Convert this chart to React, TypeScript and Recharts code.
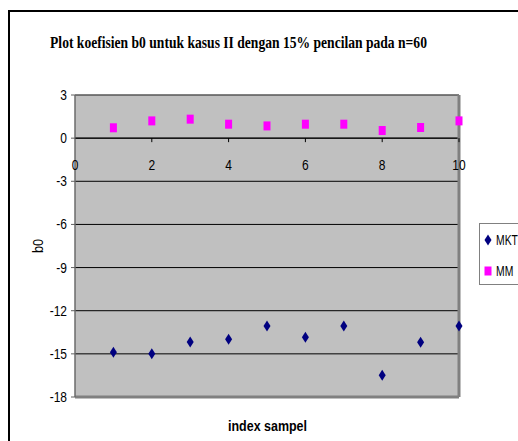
import React from 'react';
import { ScatterChart, Scatter, XAxis, YAxis, CartesianGrid, ReferenceArea, ReferenceLine, Legend, Label } from 'recharts';

const indexSampel = [1, 2, 3, 4, 5, 6, 7, 8, 9, 10];
const mktValues = [-14.88, -15.0, -14.17, -13.98, -13.06, -13.84, -13.06, -16.48, -14.19, -13.06];
const mmValues = [0.72, 1.2, 1.32, 0.97, 0.85, 0.97, 0.97, 0.53, 0.74, 1.2];
const xTicks = [0, 2, 4, 6, 8, 10];
const yTicks = [-18, -15, -12, -9, -6, -3, 0, 3];

const mktData = indexSampel.map((x, i) => ({ x, y: mktValues[i] }));
const mmData = indexSampel.map((x, i) => ({ x, y: mmValues[i] }));

const OUTER_W = 518;
const OUTER_H = 441;
const OFF = 8;
const W = 510;
const H = 433;
const M = { top: 87, right: 59, bottom: 14, left: 27 };
const X_AXIS_H = 30;
const PLOT_TOP = M.top;
const PLOT_H = H - M.top - M.bottom - X_AXIS_H;
const Y_MIN = -18;
const Y_MAX = 3;
const ZERO_Y = PLOT_TOP + (PLOT_H * (Y_MAX - 0)) / (Y_MAX - Y_MIN);

const SANS = 'Liberation Sans, Arial, sans-serif';

const Diamond = (props: any) => {
  const { cx, cy } = props;
  if (cx == null || cy == null) return null;
  return <path d={`M${cx},${cy - 5.5} L${cx + 3.5},${cy} L${cx},${cy + 5.5} L${cx - 3.5},${cy} Z`} fill="#000080" />;
};

const Square = (props: any) => {
  const { cx, cy } = props;
  if (cx == null || cy == null) return null;
  return <rect x={cx - 3.5} y={cy - 4.5} width={7} height={9} fill="#ff00ff" />;
};

const XTick = (props: any) => {
  const { x, payload } = props;
  return (
    <g>
      {payload.value !== 0 && <line x1={x} x2={x} y1={ZERO_Y} y2={ZERO_Y + 4} stroke="#000" />}
      <text
        transform={`translate(${x},${ZERO_Y + 32}) scale(0.8,1)`}
        textAnchor="middle"
        fontFamily={SANS}
        fontSize={15}
        fill="#000"
      >
        {payload.value}
      </text>
    </g>
  );
};

const YTick = (props: any) => {
  const { x, y, payload } = props;
  return (
    <text
      transform={`translate(${x},${y + 5}) scale(0.8,1)`}
      textAnchor="end"
      fontFamily={SANS}
      fontSize={15}
      fill="#000"
    >
      {payload.value}
    </text>
  );
};

const LegendContent = (props: any) => {
  const { payload } = props;
  return (
    <div
      style={{
        width: 60,
        height: 62,
        border: '1px solid #808080',
        background: '#fff',
        boxSizing: 'border-box',
        position: 'relative',
      }}
    >
      {(payload || []).map((p: any, i: number) => (
        <div key={p.value} style={{ position: 'absolute', left: 0, top: i === 0 ? 7 : 38, height: 18, display: 'flex', alignItems: 'center' }}>
          <svg width={16} height={18} style={{ display: 'block' }}>
            {i === 0 ? (
              <path d="M8,3.5 L11.5,9 L8,14.5 L4.5,9 Z" fill="#000080" />
            ) : (
              <rect x={4.5} y={4.5} width={7} height={9} fill="#ff00ff" />
            )}
          </svg>
          <span
            style={{
              fontFamily: SANS,
              fontSize: 14,
              color: '#000',
              display: 'inline-block',
              transform: 'scaleX(0.74)',
              transformOrigin: 'left center',
              whiteSpace: 'nowrap',
            }}
          >
            {p.value}
          </span>
        </div>
      ))}
    </div>
  );
};

export default function App() {
  return (
    <div style={{ position: 'fixed', left: 0, top: 0, width: OUTER_W, height: OUTER_H, overflow: 'hidden', background: '#fff' }}>
      <div
        style={{
          position: 'absolute',
          left: OFF,
          top: OFF + 2,
          width: W + 40,
          height: H + 40,
          borderLeft: '2px solid #000',
          borderTop: '2px solid #000',
          boxSizing: 'border-box',
        }}
      />
      <svg width={W} height={60} style={{ position: 'absolute', left: OFF, top: OFF }}>
        <text
          transform="translate(230.5,40) scale(0.8,1)"
          textAnchor="middle"
          fontFamily="Liberation Serif, Times New Roman, serif"
          fontWeight="bold"
          fontSize={17}
          fill="#000"
        >
          Plot koefisien b0 untuk kasus II dengan 15% pencilan pada n=60
        </text>
      </svg>
      <div style={{ position: 'absolute', left: OFF, top: OFF }}>
        <ScatterChart width={W} height={H} margin={M}>
          <CartesianGrid vertical={false} stroke="#000" fill="#c0c0c0" fillOpacity={1} />
          <XAxis
            type="number"
            dataKey="x"
            domain={[0, 10]}
            ticks={xTicks}
            axisLine={false}
            tickLine={false}
            height={X_AXIS_H}
            tick={<XTick />}
            interval={0}
          >
            <Label
              content={() => (
                <text
                  transform="translate(259.5,423) scale(0.89,1)"
                  textAnchor="middle"
                  fontFamily={SANS}
                  fontWeight="bold"
                  fontSize={14}
                  fill="#000"
                >
                  index sampel
                </text>
              )}
            />
          </XAxis>
          <YAxis
            type="number"
            dataKey="y"
            domain={[Y_MIN, Y_MAX]}
            ticks={yTicks}
            width={40}
            axisLine={{ stroke: '#606060' }}
            tickLine={{ stroke: '#606060' }}
            tickSize={4}
            tickMargin={4}
            tick={<YTick />}
            interval={0}
          >
            <Label
              content={() => (
                <text
                  transform={`translate(35,${PLOT_TOP + PLOT_H / 2}) rotate(-90) scale(0.85,1)`}
                  textAnchor="middle"
                  fontFamily={SANS}
                  fontSize={15}
                  fill="#000"
                >
                  b0
                </text>
              )}
            />
          </YAxis>
          <ReferenceArea x1={0} x2={10} y1={Y_MIN} y2={Y_MAX} fill="none" stroke="#808080" strokeWidth={1} ifOverflow="visible" />
          <ReferenceLine y={0} stroke="#000" strokeWidth={1} />
          <ReferenceLine x={10} stroke="#808080" strokeWidth={3} segment={[{ x: 10, y: Y_MIN }, { x: 10, y: Y_MAX }]} />
          <ReferenceLine y={Y_MIN} stroke="#808080" strokeWidth={3} />
          <Legend
            layout="vertical"
            align="center"
            verticalAlign="middle"
            content={<LegendContent />}
            wrapperStyle={{ position: 'absolute', left: 471, top: 215, width: 60, height: 62, right: 'auto', bottom: 'auto' }}
          />
          <Scatter name="MKT" data={mktData} fill="#000080" shape={<Diamond />} isAnimationActive={false} />
          <Scatter name="MM" data={mmData} fill="#ff00ff" shape={<Square />} isAnimationActive={false} />
        </ScatterChart>
      </div>
    </div>
  );
}
